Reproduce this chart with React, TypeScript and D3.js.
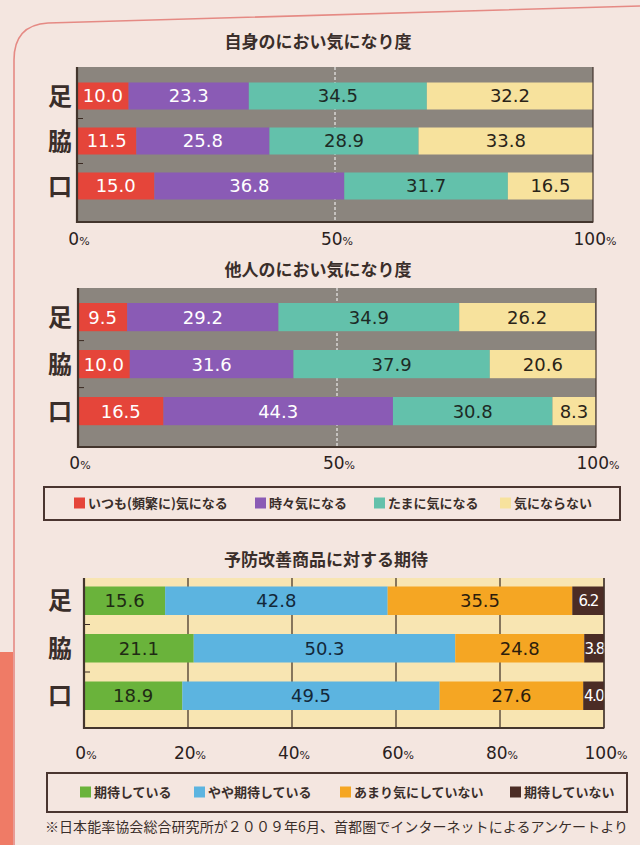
import React from "react";
import * as d3 from "d3";

// ---------- data ----------
const rowLabels = ["足", "脇", "口"];

const concernSeries = ["いつも(頻繁に)気になる", "時々気になる", "たまに気になる", "気にならない"];
const selfValues = [
  [10.0, 23.3, 34.5, 32.2],
  [11.5, 25.8, 28.9, 33.8],
  [15.0, 36.8, 31.7, 16.5],
];
const othersValues = [
  [9.5, 29.2, 34.9, 26.2],
  [10.0, 31.6, 37.9, 20.6],
  [16.5, 44.3, 30.8, 8.3],
];

const expectSeries = ["期待している", "やや期待している", "あまり気にしていない", "期待していない"];
const expectValues = [
  [15.6, 42.8, 35.5, 6.2],
  [21.1, 50.3, 24.8, 3.8],
  [18.9, 49.5, 27.6, 4.0],
];

const halfTicks = [0, 50, 100];
const fifthTicks = [0, 20, 40, 60, 80, 100];

const titles = ["自身のにおい気になり度", "他人のにおい気になり度", "予防改善商品に対する期待"];
const footnote = "※日本能率協会総合研究所が２００９年6月、首都圏でインターネットによるアンケートより";

// ---------- styles ----------
const concernColors = ["#e5453a", "#8a5bb5", "#63c1ab", "#f7e29d"];
const concernText = ["#ffffff", "#ffffff", "#1d2a25", "#2a2418"];
const expectColors = ["#6ab33b", "#5cb4e0", "#f5a623", "#4b2c25"];
const expectText = ["#1f2a14", "#13283a", "#2d1d0c", "#ffffff"];

const JP = "'Noto Sans CJK JP', 'Noto Sans', sans-serif";
const NUM = "'DejaVu Sans', 'Noto Sans', sans-serif";
const DARK = "#3a2e2a";
const PAGE = "#f4e6e0";

type ChartProps = {
  title: string;
  titleX: number;
  titleY: number;
  values: number[][];
  colors: string[];
  textColors: string[];
  x0: number;
  x1: number;
  top: number;
  bottom: number;
  bandStart: number;
  bandEnd: number;
  ticks: number[];
  tickY: number;
  variant: "gray" | "grid";
};

function StackedChart(p: ChartProps) {
  const x = d3.scaleLinear().domain([0, 100]).range([p.x0, p.x1]);
  const y = d3
    .scaleBand<string>()
    .domain(rowLabels)
    .range([p.bandStart, p.bandEnd])
    .paddingInner(0.4)
    .paddingOuter(0.2);
  const keys = p.colors.map((_, i) => i);
  const stack = d3.stack<number[], number>().keys(keys).value((d, k) => d[k]);
  const layers = stack(p.values);
  const bw = y.bandwidth();
  const step = y.step();

  return (
    <g>
      <text x={p.titleX} y={p.titleY} textAnchor="middle" fontFamily={JP} fontWeight={700} fontSize={17} fill={DARK}>
        {p.title}
      </text>
      {p.variant === "gray" ? (
        <rect x={p.x0} y={p.top} width={p.x1 - p.x0} height={p.bottom - p.top} fill="#8b857e" />
      ) : (
        <rect x={p.x0} y={p.top} width={p.x1 - p.x0} height={p.bottom - p.top} fill="#f8e5b2" />
      )}
      {p.variant === "gray" ? (
        <line x1={x(50)} x2={x(50)} y1={p.top} y2={p.bottom} stroke="#ffffff" strokeWidth={1} strokeDasharray="3,2" />
      ) : (
        p.ticks.map((t) => (
          <line key={t} x1={x(t)} x2={x(t)} y1={p.top} y2={p.bottom} stroke="#3b2a22" strokeWidth={1.2} />
        ))
      )}
      {layers.map((layer, si) =>
        layer.map((d, ri) => {
          const row = rowLabels[ri];
          const xs = x(d[0]);
          const xe = Math.min(x(d[1]), p.x1);
          const w = xe - xs;
          const v = p.values[ri][si];
          const small = w < 36;
          return (
            <g key={`${si}-${ri}`}>
              <rect x={xs} y={y(row)} width={w} height={bw} fill={p.colors[si]} />
              <text
                x={xs + w / 2}
                y={(y(row) as number) + bw / 2}
                dy="0.36em"
                textAnchor="middle"
                fontFamily={NUM}
                fontSize={small ? 15 : 18}
                letterSpacing={small ? -1.6 : 0}
                fill={p.textColors[si]}
              >
                {v.toFixed(1)}
              </text>
            </g>
          );
        })
      )}
      {rowLabels.slice(1).map((r) => (
        <line
          key={r}
          x1={p.x0}
          x2={p.x0 + 6}
          y1={(y(r) as number) - (step - bw) / 2}
          y2={(y(r) as number) - (step - bw) / 2}
          stroke="#3b2a22"
          strokeWidth={1}
        />
      ))}
      <path
        d={`M${p.x0},${p.top}V${p.bottom}H${p.x1}V${p.top}`}
        fill="none"
        stroke="#43352d"
        strokeWidth={1.2}
      />
      <path d={`M${p.x0},${p.top}V${p.bottom}H${p.x1}`} fill="none" stroke="#43352d" strokeWidth={2.2} />
      {rowLabels.map((r) => (
        <text
          key={r}
          x={60}
          y={(y(r) as number) + bw / 2}
          dy="0.36em"
          textAnchor="middle"
          fontFamily={JP}
          fontWeight={700}
          fontSize={24}
          fill={DARK}
        >
          {r}
        </text>
      ))}
      {p.ticks.map((t) => (
        <text key={t} x={x(t) + 2} y={p.tickY} textAnchor="middle" fontFamily={NUM} fontSize={17} fill="#2a211d">
          {t}
          <tspan fontSize={11}>%</tspan>
        </text>
      ))}
    </g>
  );
}

type LegendProps = {
  x0: number;
  x1: number;
  top: number;
  bottom: number;
  labels: string[];
  colors: string[];
  positions: number[];
};

function Legend(p: LegendProps) {
  const cy = (p.top + p.bottom) / 2;
  return (
    <g>
      <rect x={p.x0} y={p.top} width={p.x1 - p.x0} height={p.bottom - p.top} fill="none" stroke="#4a3530" strokeWidth={2} />
      {p.labels.map((l, i) => (
        <g key={l}>
          <rect x={p.positions[i]} y={cy - 6} width={11} height={11} fill={p.colors[i]} />
          <text x={p.positions[i] + 14} y={cy} dy="0.36em" fontFamily={JP} fontWeight={700} fontSize={13} fill={DARK}>
            {l}
          </text>
        </g>
      ))}
    </g>
  );
}

export default function App() {
  return (
    <svg
      width={640}
      height={845}
      viewBox="0 0 640 845"
      style={{ position: "absolute", left: 0, top: 0, display: "block" }}
    >
      <rect x={0} y={0} width={640} height={845} fill={PAGE} />
      <rect x={0} y={652} width={13} height={193} fill="#ef7b66" />
      <path d="M14,845 L14,60 Q14,25 48,23 L640,6" fill="none" stroke="#e58a84" strokeWidth={1.6} />

      <StackedChart
        title={titles[0]}
        titleX={318}
        titleY={48}
        values={selfValues}
        colors={concernColors}
        textColors={concernText}
        x0={77}
        x1={593}
        top={67}
        bottom={222}
        bandStart={73.5}
        bandEnd={208.5}
        ticks={halfTicks}
        tickY={245}
        variant="gray"
      />
      <StackedChart
        title={titles[1]}
        titleX={318}
        titleY={276}
        values={othersValues}
        colors={concernColors}
        textColors={concernText}
        x0={78}
        x1={596}
        top={288}
        bottom={447}
        bandStart={293.6}
        bandEnd={434.6}
        ticks={halfTicks}
        tickY={469}
        variant="gray"
      />
      <Legend
        x0={44}
        x1={620}
        top={487}
        bottom={520}
        labels={concernSeries}
        colors={concernColors}
        positions={[74, 255, 374, 500]}
      />
      <StackedChart
        title={titles[2]}
        titleX={326}
        titleY={566}
        values={expectValues}
        colors={expectColors}
        textColors={expectText}
        x0={84}
        x1={604}
        top={578}
        bottom={728}
        bandStart={577}
        bandEnd={719.5}
        ticks={fifthTicks}
        tickY={759}
        variant="grid"
      />
      <Legend
        x0={47}
        x1={627}
        top={773}
        bottom={812}
        labels={expectSeries}
        colors={expectColors}
        positions={[80, 194, 340, 510]}
      />
      <text x={45} y={832} fontFamily={JP} fontSize={14} fill={DARK} textLength={583} lengthAdjust="spacing">
        {footnote}
      </text>
    </svg>
  );
}
